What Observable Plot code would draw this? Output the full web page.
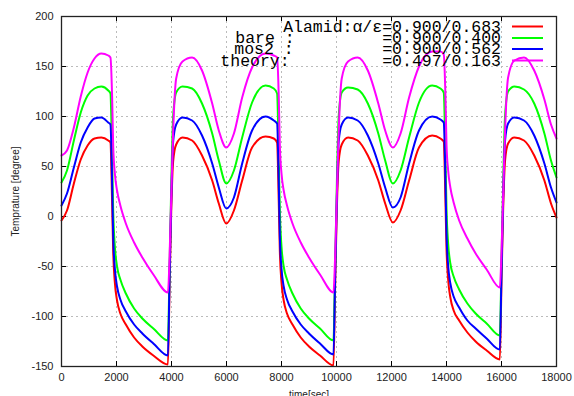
<!DOCTYPE html>
<html><head><meta charset="utf-8">
<script src="https://cdn.jsdelivr.net/npm/d3@7"></script>
<script src="https://cdn.jsdelivr.net/npm/@observablehq/plot@0.6"></script>
<style>body{margin:0;background:#fff;overflow:hidden;} svg{display:block;}</style>
</head><body><div id="chart"></div>
<script>
// time [sec]
const times = [
  0, 200, 450, 700, 950, 1200, 1450, 1700, 1780,
  1840, 1880, 1940, 2020, 2140, 2340, 2640, 2940, 3340, 3870,
  3930, 3990, 4060, 4170, 4400, 4750, 5110, 5480, 5720, 5990, 6270, 6570, 6930, 7420, 7720, 7840,
  7900, 7940, 8000, 8080, 8200, 8400, 8700, 9000, 9400, 9890,
  9950, 10010, 10080, 10190, 10420, 10770, 11140, 11520, 11770, 12050, 12330, 12640, 13000, 13480, 13780, 13900,
  13960, 14000, 14060, 14140, 14260, 14460, 14760, 15060, 15460, 15940,
  16000, 16060, 16130, 16240, 16470, 16820, 17190, 17560, 17800, 18000
];
// theory (magenta)
const theory = [
  61, 66, 89, 120, 144, 158, 163, 161, 159,
  120, 70, 43, 26, 11, -7, -26, -41, -58, -76,
  -40, 20, 85, 138, 155, 159, 146, 113, 86, 69, 83, 119, 149, 163, 161, 159,
  120, 70, 43, 26, 11, -7, -26, -41, -58, -76,
  -40, 20, 85, 138, 155, 159, 146, 113, 86, 69, 83, 119, 150, 165, 165, 162,
  122, 72, 46, 29, 14, -4, -22, -37, -53, -71,
  -35, 22, 86, 139, 156, 159, 146, 117, 92, 78
];
// bare (green)
const bare = [
  34, 46, 76, 104, 121, 128, 130, 126, 123,
  60, 5, -30, -50, -63, -77, -92, -102, -112, -124,
  -50, 30, 100, 124, 130, 128, 113, 83, 56, 33, 46, 79, 114, 131, 128, 123,
  60, 5, -30, -50, -63, -77, -92, -102, -112, -124,
  -50, 30, 100, 124, 129, 127, 113, 83, 56, 33, 46, 79, 114, 131, 128, 124,
  63, 8, -27, -47, -60, -73, -87, -97, -107, -119,
  -45, 32, 101, 125, 130, 127, 113, 83, 56, 39
];
// mos2 (blue)
const mos2 = [
  11, 23, 49, 74, 89, 98, 99, 94, 92,
  35, -20, -52, -70, -83, -95, -108, -117, -127, -139,
  -60, 15, 75, 92, 99, 96, 81, 53, 29, 8, 19, 53, 86, 100, 96, 93,
  35, -20, -52, -70, -83, -95, -108, -117, -127, -138,
  -60, 15, 75, 92, 99, 96, 81, 53, 29, 9, 19, 53, 86, 100, 97, 94,
  38, -17, -49, -67, -80, -91, -104, -112, -122, -133,
  -55, 17, 76, 93, 99, 96, 81, 53, 29, 14
];
// Alamid (red)
const alamid = [
  -4, 6, 33, 57, 71, 78, 79, 76, 74,
  15, -35, -66, -84, -97, -108, -121, -130, -139, -148,
  -70, 5, 55, 72, 79, 76, 61, 36, 13, -7, 6, 36, 69, 80, 78, 74,
  15, -35, -66, -84, -97, -108, -121, -130, -139, -149,
  -70, 5, 55, 72, 79, 76, 61, 36, 13, -6, 6, 36, 69, 81, 78, 75,
  18, -32, -63, -81, -94, -104, -116, -125, -134, -143,
  -65, 7, 56, 73, 79, 76, 61, 36, 13, -1
];

const xTicks = [0, 2000, 4000, 6000, 8000, 10000, 12000, 14000, 16000, 18000];
const yTicks = [-150, -100, -50, 0, 50, 100, 150, 200];
const seriesNames = ["Alamid", "bare", "mos2", "theory"];
const seriesColors = ["#ff0000", "#00ff00", "#0000ff", "#ff00ff"];
const legendLabels = ["Alamid:α/ε", "bare :", "mos2 :", "theory:"];
const legendValues = ["=0.900/0.683", "=0.900/0.400", "=0.900/0.562", "=0.497/0.163"];

const seriesData = [alamid, bare, mos2, theory];
const rows = [];
seriesData.forEach((arr, i) => arr.forEach((v, j) => rows.push({series: seriesNames[i], t: times[j], v})));

const chart = Plot.plot({
  width: 574, height: 396,
  marginLeft: 61, marginRight: 18, marginTop: 16, marginBottom: 30,
  style: {fontFamily: "'Liberation Sans', Arial, sans-serif", fontSize: "11px", background: "#fff", overflow: "visible", color: "#222"},
  x: {domain: [0, 18000]},
  y: {domain: [-150, 200]},
  color: {domain: seriesNames, range: seriesColors},
  marks: [
    Plot.gridX(xTicks, {stroke: "#bbb", strokeOpacity: 1, strokeDasharray: "2,3"}),
    Plot.gridY(yTicks, {stroke: "#bbb", strokeOpacity: 1, strokeDasharray: "2,3"}),
    Plot.tickX(xTicks, {x: d => d, insetTop: 345, stroke: "#000"}),
    Plot.tickX(xTicks, {x: d => d, insetBottom: 345, stroke: "#000"}),
    Plot.tickY(yTicks, {y: d => d, insetRight: 490, stroke: "#000"}),
    Plot.tickY(yTicks, {y: d => d, insetLeft: 490, stroke: "#000"}),
    Plot.axisX(xTicks, {tickSize: 0, tickPadding: 7, tickFormat: d => String(d), label: "time[sec]", labelAnchor: "center", labelOffset: 31, labelArrow: "none"}),
    Plot.axisY(yTicks, {tickSize: 0, tickPadding: 8, tickFormat: d => String(d), label: "Temprature [degree]", labelAnchor: "center", labelOffset: 50, labelArrow: "none"}),
    Plot.line(rows, {x: "t", y: "v", z: "series", stroke: "series", strokeWidth: 2, curve: "monotone-x"}),
    Plot.frame({stroke: "#222", strokeWidth: 1.3})
  ]
});
document.getElementById("chart").appendChild(chart);

const svg = d3.select(chart);
svg.selectAll('[aria-label="y-axis label"] text, [aria-label="x-axis label"] text').attr("font-size", "10px");

// gnuplot-style key, top right inside the frame
const key = svg.append("g").attr("font-family", "'Liberation Mono', 'DejaVu Sans Mono', monospace").attr("font-size", "16.5px").attr("fill", "#000");
const baselines = [31.5, 43, 54, 65.5];
const labelX = [null, 265, 264, 255];
legendLabels.forEach((lab, i) => {
  if (i === 0) {
    key.append("text").attr("x", 501).attr("y", baselines[i]).attr("text-anchor", "end").text(lab + legendValues[i]);
  } else {
    key.append("text").attr("x", labelX[i]).attr("y", baselines[i]).text(lab);
    key.append("text").attr("x", 501).attr("y", baselines[i]).attr("text-anchor", "end").text(legendValues[i]);
  }
  svg.append("line").attr("x1", 512).attr("x2", 543)
    .attr("y1", baselines[i] - 5).attr("y2", baselines[i] - 5)
    .attr("stroke", seriesColors[i]).attr("stroke-width", 2);
});
</script>
</body></html>
